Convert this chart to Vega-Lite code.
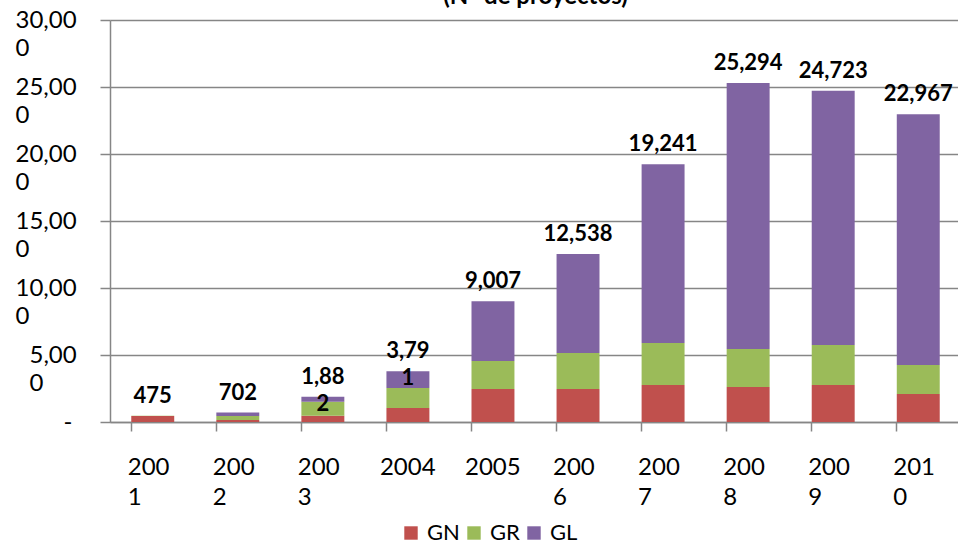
{
  "$schema": "https://vega.github.io/schema/vega-lite/v6.json",
  "autosize": "none",
  "width": 851,
  "height": 402,
  "padding": {"left": 110, "top": 20, "right": 0, "bottom": 121},
  "background": "white",
  "title": {
    "text": "(N° de proyectos)",
    "font": "Lato",
    "fontSize": 24,
    "fontWeight": "bold",
    "color": "#000000",
    "anchor": "middle",
    "baseline": "alphabetic",
    "offset": 0,
    "dy": 20
  },
  "config": {
    "view": {"stroke": null},
    "font": "Lato"
  },
  "data": {
    "values": [
      {"year": "2001", "series": "GN", "value": 440},
      {"year": "2001", "series": "GR", "value": 25},
      {"year": "2001", "series": "GL", "value": 10},
      {"year": "2002", "series": "GN", "value": 150},
      {"year": "2002", "series": "GR", "value": 300},
      {"year": "2002", "series": "GL", "value": 252},
      {"year": "2003", "series": "GN", "value": 470},
      {"year": "2003", "series": "GR", "value": 1045},
      {"year": "2003", "series": "GL", "value": 367},
      {"year": "2004", "series": "GN", "value": 1045},
      {"year": "2004", "series": "GR", "value": 1490},
      {"year": "2004", "series": "GL", "value": 1256},
      {"year": "2005", "series": "GN", "value": 2460},
      {"year": "2005", "series": "GR", "value": 2090},
      {"year": "2005", "series": "GL", "value": 4457},
      {"year": "2006", "series": "GN", "value": 2460},
      {"year": "2006", "series": "GR", "value": 2690},
      {"year": "2006", "series": "GL", "value": 7388},
      {"year": "2007", "series": "GN", "value": 2760},
      {"year": "2007", "series": "GR", "value": 3130},
      {"year": "2007", "series": "GL", "value": 13351},
      {"year": "2008", "series": "GN", "value": 2610},
      {"year": "2008", "series": "GR", "value": 2840},
      {"year": "2008", "series": "GL", "value": 19844},
      {"year": "2009", "series": "GN", "value": 2760},
      {"year": "2009", "series": "GR", "value": 2990},
      {"year": "2009", "series": "GL", "value": 18973},
      {"year": "2010", "series": "GN", "value": 2090},
      {"year": "2010", "series": "GR", "value": 2160},
      {"year": "2010", "series": "GL", "value": 18717}
    ]
  },
  "encoding": {
    "x": {
      "field": "year",
      "type": "ordinal",
      "scale": {"paddingInner": 0.495, "paddingOuter": 0.25},
      "axis": {
        "title": null,
        "labelAngle": 0,
        "labelFont": "Lato",
        "labelFontSize": 24,
        "labelColor": "#000000",
        "labelAlign": "left",
        "labelBaseline": "top",
        "labelLineHeight": 30,
        "labelPadding": 24,
        "labelOffset": {"condition": {"test": "datum.value == '2004' || datum.value == '2005'", "value": -28}, "value": -25},
        "labelExpr": "datum.value == '2004' || datum.value == '2005' ? datum.value : [substring(datum.value, 0, 3), substring(datum.value, 3)]",
        "bandPosition": 0,
        "ticks": true,
        "tickSize": 9,
        "tickColor": "#868686",
        "tickWidth": 1.5,
        "domainColor": "#868686",
        "domainWidth": 1.5,
        "grid": false
      }
    }
  },
  "layer": [
    {
      "mark": {"type": "bar"},
      "transform": [
        {"calculate": "indexof(['GN','GR','GL'], datum.series)", "as": "ord"}
      ],
      "encoding": {
        "y": {
          "field": "value",
          "type": "quantitative",
          "aggregate": "sum",
          "stack": "zero",
          "scale": {"domain": [0, 30000], "nice": false},
          "axis": {
            "title": null,
            "values": [0, 5000, 10000, 15000, 20000, 25000, 30000],
            "labelExpr": "datum.value == 0 ? '-' : [substring(format(datum.value, ','), 0, length(format(datum.value, ',')) - 1), substring(format(datum.value, ','), length(format(datum.value, ',')) - 1)]",
            "labelFont": "Lato",
            "labelFontSize": 24,
            "labelColor": "#000000",
            "labelAlign": "left",
            "labelBaseline": "middle",
            "labelLineHeight": 28,
            "labelPadding": {"condition": [{"test": "datum.value >= 10000", "value": 85}, {"test": "datum.value > 0", "value": 71}], "value": 37},
            "tickSize": 10,
            "tickColor": "#868686",
            "tickWidth": 1.5,
            "domainColor": "#868686",
            "domainWidth": 1.5,
            "grid": true,
            "gridColor": "#868686",
            "gridWidth": 1.5
          }
        },
        "color": {
          "field": "series",
          "type": "nominal",
          "scale": {"domain": ["GN", "GR", "GL"], "range": ["#C0504D", "#9BBB59", "#8064A2"]},
          "legend": {
            "title": null,
            "orient": "none",
            "direction": "horizontal",
            "legendX": 290,
            "legendY": 502,
            "symbolType": "square",
            "symbolSize": 180,
            "symbolStrokeWidth": 0,
            "symbolOpacity": 1,
            "labelFont": "Lato",
            "labelFontSize": 22,
            "labelColor": "#000000",
            "columnPadding": 3,
            "labelOffset": 5
          }
        },
        "order": {"field": "ord", "type": "quantitative"}
      }
    },
    {
      "transform": [
        {"aggregate": [{"op": "sum", "field": "value", "as": "total"}], "groupby": ["year"]},
        {"calculate": "format(datum.total, ',')", "as": "txt"},
        {"calculate": "datum.total > 1000 && datum.total < 5000 ? [substring(datum.txt, 0, 4), substring(datum.txt, 4)] : datum.txt", "as": "label"}
      ],
      "mark": {
        "type": "text",
        "font": "Lato",
        "fontSize": 22,
        "fontWeight": "bold",
        "color": "#000000",
        "baseline": "alphabetic",
        "dy": -13,
        "lineHeight": 27
      },
      "encoding": {
        "y": {"field": "total", "type": "quantitative"},
        "text": {"field": "label"}
      }
    }
  ]
}
